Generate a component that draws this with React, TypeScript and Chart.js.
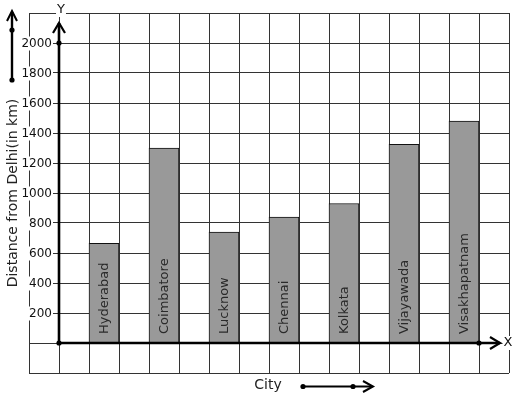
import React, { useEffect, useRef } from 'react';
import { Chart, registerables } from 'chart.js';

Chart.register(...registerables);

// ---- data ----
const cities = ['Hyderabad', 'Coimbatore', 'Lucknow', 'Chennai', 'Kolkata', 'Vijayawada', 'Visakhapatnam'];
const distances = [665, 1300, 740, 840, 930, 1325, 1480];
// slot of each city on the graph-paper x axis (units of grid squares from the Y axis)
const citySlots = [1.5, 3.5, 5.5, 7.5, 9.5, 11.5, 13.5];
const yTickLabels = [200, 400, 600, 800, 1000, 1200, 1400, 1600, 1800, 2000];
const xRange = [-1, 15];
const yRange = [-200, 2200];
const yTitle = 'Distance from Delhi(in km)';
const xTitle = 'City';

const FONT = '"DejaVu Sans", Verdana, sans-serif';

function dot(ctx: CanvasRenderingContext2D, x: number, y: number, r = 2.6) {
  ctx.beginPath();
  ctx.arc(x, y, r, 0, Math.PI * 2);
  ctx.fill();
}

function textWithBackdrop(ctx: CanvasRenderingContext2D, text: string, x: number, y: number, align: CanvasTextAlign) {
  const w = ctx.measureText(text).width;
  let left = x;
  if (align === 'center') left = x - w / 2;
  if (align === 'right') left = x - w;
  ctx.save();
  ctx.fillStyle = '#fff';
  ctx.fillRect(left - 1, y - 7, w + 2, 14);
  ctx.restore();
  ctx.textAlign = align;
  ctx.textBaseline = 'middle';
  ctx.fillText(text, x, y);
}

const overlay = {
  id: 'overlay',
  afterDatasetsDraw(chart: any) {
    const { ctx, chartArea, scales } = chart;
    const xs = scales.x;
    const ys = scales.y;
    const x0 = xs.getPixelForValue(0);
    const y0 = ys.getPixelForValue(0);
    ctx.save();

    // labels inside bars
    const meta = chart.getDatasetMeta(0);
    ctx.font = `13px ${FONT}`;
    ctx.fillStyle = '#2a2a2a';
    meta.data.forEach((bar: any, i: number) => {
      ctx.save();
      ctx.translate(bar.x, y0 - 9);
      ctx.rotate(-Math.PI / 2);
      ctx.textAlign = 'left';
      ctx.textBaseline = 'middle';
      ctx.fillText(cities[i], 0, 0.5);
      ctx.restore();
    });

    // y tick labels with white backdrops
    ctx.font = `12px ${FONT}`;
    ctx.fillStyle = '#111';
    yTickLabels.forEach((v) => {
      const py = ys.getPixelForValue(v);
      textWithBackdrop(ctx, String(v), x0 - 7, py + 0.5, 'right');
    });

    // axes
    ctx.strokeStyle = '#000';
    ctx.fillStyle = '#000';
    ctx.lineWidth = 2.6;
    const yTip = chartArea.top + 10;
    const xTip = chartArea.right - 9;
    ctx.beginPath();
    ctx.moveTo(x0, y0);
    ctx.lineTo(x0, yTip);
    ctx.moveTo(x0, y0);
    ctx.lineTo(xTip, y0);
    ctx.stroke();
    // arrowheads
    ctx.lineWidth = 2.2;
    ctx.beginPath();
    ctx.moveTo(x0 - 6, yTip + 10);
    ctx.lineTo(x0, yTip);
    ctx.lineTo(x0 + 6, yTip + 10);
    ctx.moveTo(xTip - 10, y0 - 6);
    ctx.lineTo(xTip, y0);
    ctx.lineTo(xTip - 10, y0 + 6);
    ctx.stroke();
    dot(ctx, x0, y0);
    dot(ctx, x0, ys.getPixelForValue(2000));
    dot(ctx, xs.getPixelForValue(14), y0);

    // axis letters
    ctx.font = `13px ${FONT}`;
    ctx.fillStyle = '#111';
    textWithBackdrop(ctx, 'Y', x0 + 2, chartArea.top - 3, 'center');
    textWithBackdrop(ctx, 'X', chartArea.right - 1, y0, 'center');

    // y title
    ctx.font = `14px ${FONT}`;
    ctx.fillStyle = '#222';
    ctx.save();
    ctx.translate(12, (chartArea.top + chartArea.bottom) / 2);
    ctx.rotate(-Math.PI / 2);
    ctx.textAlign = 'center';
    ctx.textBaseline = 'middle';
    ctx.fillText(yTitle, 0, 1);
    ctx.restore();

    // x title
    ctx.textAlign = 'center';
    ctx.textBaseline = 'middle';
    ctx.fillText(xTitle, 268, 385);

    // decorative arrows
    ctx.strokeStyle = '#000';
    ctx.fillStyle = '#000';
    ctx.lineWidth = 2.4;
    // left vertical arrow
    ctx.beginPath();
    ctx.moveTo(12, 80);
    ctx.lineTo(12, 12);
    ctx.stroke();
    ctx.lineWidth = 2;
    ctx.beginPath();
    ctx.moveTo(7, 21);
    ctx.lineTo(12, 11);
    ctx.lineTo(17, 21);
    ctx.stroke();
    dot(ctx, 12, 80);
    dot(ctx, 12, 30);
    // bottom horizontal arrow
    ctx.lineWidth = 2;
    ctx.beginPath();
    ctx.moveTo(303, 386.5);
    ctx.lineTo(372, 386.5);
    ctx.stroke();
    ctx.beginPath();
    ctx.moveTo(363, 381);
    ctx.lineTo(373, 386.5);
    ctx.lineTo(363, 392);
    ctx.stroke();
    dot(ctx, 303, 386.5);
    dot(ctx, 353, 386.5);

    ctx.restore();
  },
};

export default function App() {
  const canvasRef = useRef<HTMLCanvasElement | null>(null);

  useEffect(() => {
    const canvas = canvasRef.current;
    if (!canvas) return;
    const chart = new Chart(canvas, {
      type: 'bar',
      data: {
        datasets: [
          {
            data: citySlots.map((s, i) => ({ x: s, y: distances[i] })),
            backgroundColor: '#999999',
            borderColor: '#111',
            borderWidth: 1,
            barThickness: 30,
          },
        ],
      },
      options: {
        responsive: false,
        animation: false,
        events: [],
        layout: { padding: { left: 29, right: 8, top: 13, bottom: 26 } },
        plugins: {
          legend: { display: false },
          tooltip: { enabled: false },
          title: { display: false },
        },
        scales: {
          x: {
            type: 'linear',
            offset: false,
            min: xRange[0],
            max: xRange[1],
            ticks: { display: false, stepSize: 1 },
            grid: { color: '#333', lineWidth: 1, drawTicks: false, offset: false },
            border: { display: false },
            afterFit: (s: any) => {
              s.height = 0;
            },
          },
          y: {
            type: 'linear',
            min: yRange[0],
            max: yRange[1],
            ticks: { display: false, stepSize: 200 },
            grid: { color: '#333', lineWidth: 1, drawTicks: false },
            border: { display: false },
            afterFit: (s: any) => {
              s.width = 0;
            },
          },
        },
      },
      plugins: [overlay],
    });
    return () => chart.destroy();
  }, []);

  return (
    <div style={{ position: 'absolute', left: 0, top: 0, width: 517, height: 399, background: '#fff' }}>
      <canvas ref={canvasRef} width={517} height={399} style={{ display: 'block' }} />
    </div>
  );
}
